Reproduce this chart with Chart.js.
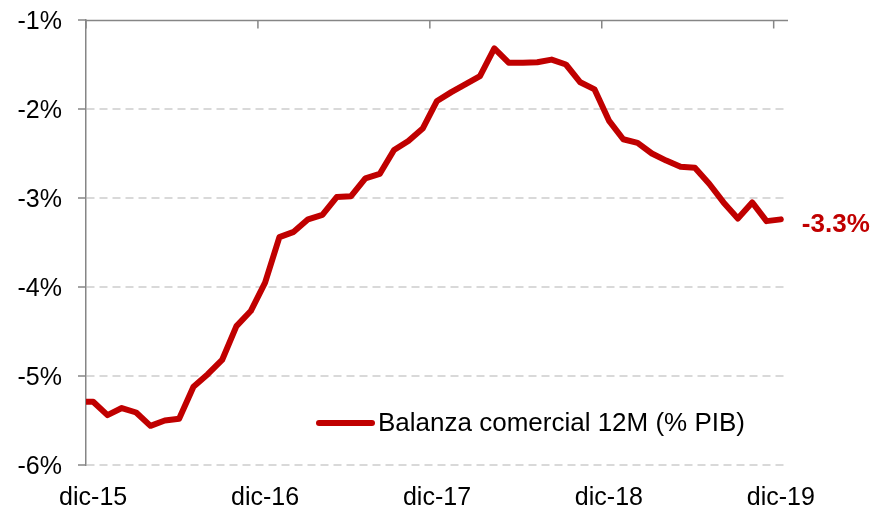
<!DOCTYPE html>
<html>
<head>
<meta charset="utf-8">
<script src="https://cdn.jsdelivr.net/npm/chart.js@4/dist/chart.umd.min.js"></script>
<style>
  html, body { margin: 0; padding: 0; background: #ffffff; }
  #wrap { width: 873px; height: 508px; }
</style>
</head>
<body>
<div id="wrap"><canvas id="c" width="873" height="508"></canvas></div>
<script>
// Months (first one sits just left of the plot and is clipped)
const months = [
  'nov-15','dic-15',
  'ene-16','feb-16','mar-16','abr-16','may-16','jun-16','jul-16','ago-16','sep-16','oct-16','nov-16','dic-16',
  'ene-17','feb-17','mar-17','abr-17','may-17','jun-17','jul-17','ago-17','sep-17','oct-17','nov-17','dic-17',
  'ene-18','feb-18','mar-18','abr-18','may-18','jun-18','jul-18','ago-18','sep-18','oct-18','nov-18','dic-18',
  'ene-19','feb-19','mar-19','abr-19','may-19','jun-19','jul-19','ago-19','sep-19','oct-19','nov-19','dic-19'
];
// Balanza comercial 12M (% PIB)
const balanza = [
  -5.29, -5.29,
  -5.44, -5.36, -5.41, -5.56, -5.50, -5.48, -5.12, -4.98, -4.82, -4.44, -4.27, -3.95,
  -3.44, -3.38, -3.24, -3.19, -2.99, -2.98, -2.78, -2.73, -2.46, -2.36, -2.22, -1.91,
  -1.81, -1.72, -1.63, -1.32, -1.48, -1.48, -1.475, -1.445, -1.50, -1.70, -1.78, -2.13,
  -2.34, -2.38, -2.50, -2.58, -2.65, -2.66, -2.84, -3.05, -3.23, -3.05, -3.26, -3.24
];
const yTicks = [-6, -5, -4, -3, -2, -1];
const seriesName = 'Balanza comercial 12M (% PIB)';
const lastLabel = '-3.3%';

const RED = '#C00000';
const AXIS = '#868686';
const GRID = '#d9d9d9';
const FONT = "'Liberation Sans', Arial, sans-serif";

const frame = {
  id: 'frame',
  beforeDatasetsDraw(chart) {
    const {ctx, chartArea} = chart;
    const xs = chart.scales.x;
    ctx.save();
    ctx.strokeStyle = AXIS;
    ctx.lineWidth = 1.5;
    const yTop = chartArea.top + 0.5;
    ctx.beginPath();
    ctx.moveTo(chartArea.left, yTop);
    ctx.lineTo(chartArea.right, yTop);
    ctx.stroke();
    for (let i = 1; i < months.length; i++) {
      if (months[i].startsWith('dic')) {
        const x = (xs.getPixelForValue(i) + xs.getPixelForValue(i - 1)) / 2;
        ctx.beginPath();
        ctx.moveTo(x, yTop);
        ctx.lineTo(x, yTop + 8);
        ctx.stroke();
      }
    }
    ctx.restore();
  },
  afterDatasetsDraw(chart) {
    const {ctx, chartArea} = chart;
    const meta = chart.getDatasetMeta(0);
    const last = meta.data[meta.data.length - 1];
    ctx.save();
    ctx.fillStyle = RED;
    ctx.font = 'bold 26px ' + FONT;
    ctx.textAlign = 'left';
    ctx.textBaseline = 'middle';
    ctx.fillText(lastLabel, last.x + 21, last.y + 5);
    // legend
    const lx = chartArea.left + 233, ly = chartArea.bottom - 42;
    ctx.strokeStyle = RED;
    ctx.lineWidth = 6;
    ctx.lineCap = 'round';
    ctx.beginPath();
    ctx.moveTo(lx, ly);
    ctx.lineTo(lx + 53, ly);
    ctx.stroke();
    ctx.fillStyle = '#000000';
    ctx.font = '26px ' + FONT;
    ctx.fillText(seriesName, lx + 59, ly + 1);
    ctx.restore();
  }
};

new Chart(document.getElementById('c'), {
  type: 'line',
  data: {
    labels: months,
    datasets: [{
      label: seriesName,
      data: balanza,
      borderColor: RED,
      backgroundColor: RED,
      borderWidth: 6,
      borderJoinStyle: 'round',
      borderCapStyle: 'round',
      pointRadius: 0,
      pointHoverRadius: 0,
      tension: 0,
      clip: 0
    }]
  },
  options: {
    responsive: false,
    animation: false,
    devicePixelRatio: 1,
    layout: { padding: { top: 20, right: 85, left: 0, bottom: 0 } },
    plugins: {
      legend: { display: false },
      tooltip: { enabled: false }
    },
    scales: {
      x: {
        type: 'category',
        min: 1,
        offset: true,
        grid: { display: false, drawTicks: false },
        border: { display: false },
        ticks: {
          autoSkip: false,
          maxRotation: 0,
          minRotation: 0,
          padding: 18,
          color: '#000000',
          font: { family: FONT, size: 25 },
          callback: function (v) {
            const l = this.getLabelForValue(v);
            return l.startsWith('dic') ? l : null;
          }
        },
        afterFit: s => { s.height = 43; s.paddingLeft = 0; s.paddingRight = 0; }
      },
      y: {
        min: -6,
        max: -1,
        afterBuildTicks: s => { s.ticks = yTicks.map(v => ({ value: v })); },
        grid: {
          color: c => (c.tick && c.tick.value === -1) ? 'rgba(0,0,0,0)' : GRID,
          lineWidth: 2,
          tickColor: AXIS,
          tickWidth: 1.5,
          tickLength: 8
        },
        border: { display: true, color: AXIS, width: 1.5, dash: [8, 5] },
        ticks: {
          padding: 16,
          labelOffset: 2,
          color: '#000000',
          font: { family: FONT, size: 25 },
          callback: v => v + '%'
        },
        afterFit: s => { s.width = 86; s.paddingTop = 0; s.paddingBottom = 0; }
      }
    }
  },
  plugins: [frame]
});
</script>
</body>
</html>
